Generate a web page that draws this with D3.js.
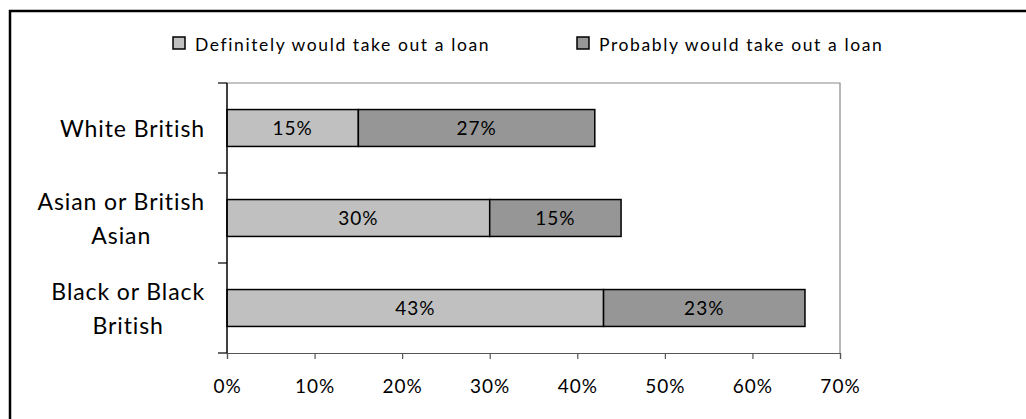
<!DOCTYPE html>
<html><head><meta charset="utf-8">
<script src="https://cdn.jsdelivr.net/npm/d3@7"></script>
<style>body{margin:0;background:#fff}svg{display:block}text{font-family:Lato,"Open Sans",sans-serif;fill:#000}</style>
</head><body><svg id="c" width="1026" height="419"></svg>
<script>
const categories = [["White British"], ["Asian or British", "Asian"], ["Black or Black", "British"]];
const seriesNames = ["Definitely would take out a loan", "Probably would take out a loan"];
const definitely = [15, 30, 43];
const probably = [27, 15, 23];
const xTicks = [0, 10, 20, 30, 40, 50, 60, 70];
const colors = ["#c0c0c0", "#969696"];

const svg = d3.select("#c");
svg.append("rect").attr("x", 10).attr("y", 11).attr("width", 1030).attr("height", 430)
  .attr("fill", "none").attr("stroke", "#000").attr("stroke-width", 2.5);

const L = 227, R = 840, T = 83, B = 353;
const x = d3.scaleLinear().domain([0, 70]).range([L, R]);
const y = d3.scaleBand().domain(d3.range(categories.length)).range([T, B]).paddingInner(0.59).paddingOuter(0.295);

// plot area border
svg.append("path").attr("d", `M${L},${T}H${R}V${B}`).attr("fill", "none").attr("stroke", "#888").attr("stroke-width", 1.2);

const data = categories.map((c, i) => ({i, segs: [
  {s: 0, x0: 0, x1: definitely[i], v: definitely[i]},
  {s: 1, x0: definitely[i], x1: definitely[i] + probably[i], v: probably[i]}]}));

const g = svg.append("g");
data.forEach(d => {
  d.segs.forEach(s => {
    g.append("rect").attr("x", x(s.x0)).attr("y", y(d.i)).attr("width", x(s.x1) - x(s.x0)).attr("height", y.bandwidth())
      .attr("fill", colors[s.s]).attr("stroke", "#000").attr("stroke-width", 1.5);
    g.append("text").attr("x", (x(s.x0) + x(s.x1)) / 2).attr("y", y(d.i) + y.bandwidth() / 2 + 7)
      .attr("text-anchor", "middle").style("font-size", "19px").style("letter-spacing", "1px").text(s.v + "%");
  });
});

// x axis
const xa = svg.append("g").attr("transform", `translate(0,${B})`)
  .call(d3.axisBottom(x).tickValues(xTicks).tickFormat(d => d + "%").tickSize(6).tickPadding(21));
xa.select(".domain").attr("stroke", "#555").attr("stroke-width", 1.2);
xa.selectAll(".tick line").attr("stroke", "#555").attr("stroke-width", 1.2);
xa.selectAll(".tick text").style("font-size", "19px").style("font-family", "Lato,sans-serif").style("letter-spacing", "1px").attr("fill", "#000");

// y axis line + ticks at band boundaries
svg.append("line").attr("x1", L).attr("x2", L).attr("y1", T).attr("y2", B).attr("stroke", "#000").attr("stroke-width", 1.5);
d3.range(categories.length + 1).forEach(k => {
  const yy = T + k * y.step();
  svg.append("line").attr("x1", L - 9).attr("x2", L).attr("y1", yy).attr("y2", yy).attr("stroke", "#000").attr("stroke-width", 1.2);
});

// category labels
categories.forEach((lines, i) => {
  const cy = y(i) + y.bandwidth() / 2;
  const lh = 34;
  const t = svg.append("text").attr("text-anchor", "end").style("font-size", "23px").style("letter-spacing", "0.9px");
  lines.forEach((ln, j) => {
    t.append("tspan").attr("x", 205).attr("y", cy + 9 + (j - (lines.length - 1) / 2) * lh).text(ln);
  });
  if (lines.length > 1) {
    const first = t.select("tspan").node();
    const w = first.getComputedTextLength();
    const center = 205 - w / 2;
    t.selectAll("tspan").filter((d, j) => j > 0).attr("x", center).attr("text-anchor", "middle");
  }
});

// legend
const legX = [173, 577];
seriesNames.forEach((n, k) => {
  svg.append("rect").attr("x", legX[k]).attr("y", 37).attr("width", 12).attr("height", 12)
    .attr("fill", colors[k]).attr("stroke", "#000").attr("stroke-width", 1.5);
  svg.append("text").attr("x", legX[k] + 22).attr("y", 51).style("font-size", "17.5px").style("letter-spacing", "1.6px").text(n);
});
</script></body></html>
